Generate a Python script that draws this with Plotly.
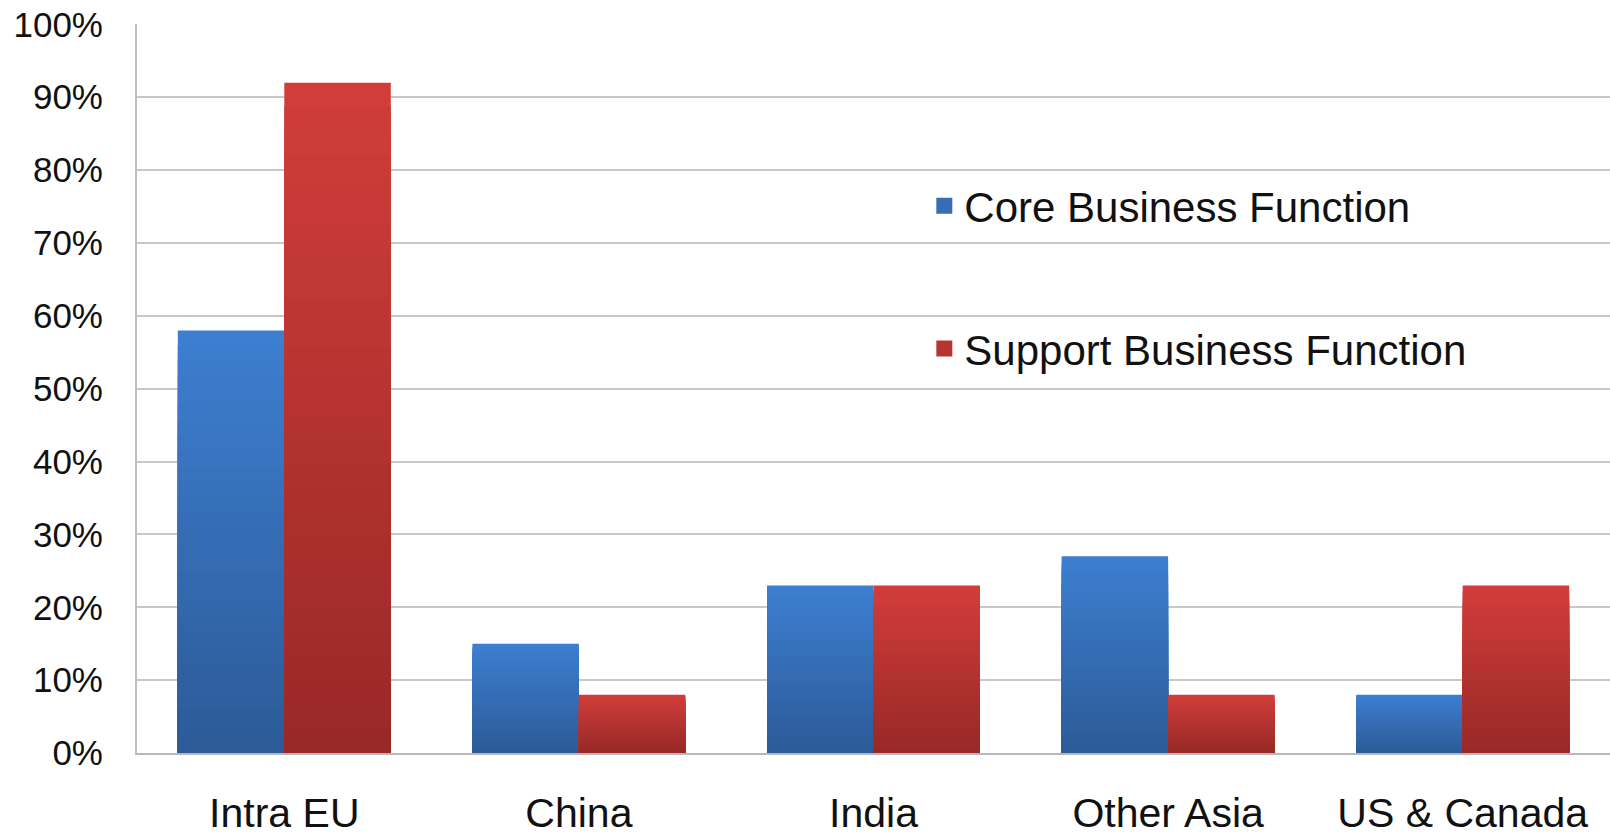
import plotly.graph_objects as go

# Share of relocations by destination and business function
regions = ["Intra EU", "China", "India", "Other Asia", "US & Canada"]
core_share = [0.58, 0.15, 0.23, 0.27, 0.08]
support_share = [0.92, 0.08, 0.23, 0.08, 0.23]

series = [
    ("Core Business Function", core_share, (61, 126, 208), (44, 91, 152), "core"),
    ("Support Business Function", support_share, (208, 61, 58), (153, 41, 39), "support"),
]

N_BANDS = 28  # vertical shading bands per bar (light at the top, dark at the base)


def blend(c1, c2, t):
    return "rgb({},{},{})".format(*[round(a + (b - a) * t) for a, b in zip(c1, c2)])


fig = go.Figure()
for name, values, top_col, base_col, group in series:
    for k in range(N_BANDS):
        frac = 1 - k / N_BANDS
        fig.add_trace(go.Bar(
            x=regions,
            y=[v * frac for v in values],
            name=name,
            offsetgroup=group,
            legendgroup=group,
            showlegend=False,
            marker=dict(color=blend(top_col, base_col, k / (N_BANDS - 1)), line=dict(width=0)),
            hoverinfo="skip" if k else "x+y+name",
        ))
    # legend key: a larger square swatch in the mid tone of the bar shading
    fig.add_trace(go.Scatter(
        x=[regions[0]],
        y=[None],
        mode="markers",
        name=name,
        legendgroup=group,
        showlegend=True,
        marker=dict(symbol="square", size=16, color=blend(top_col, base_col, 0.45),
                    line=dict(width=0)),
        hoverinfo="skip",
    ))

fig.update_layout(
    width=1610,
    height=835,
    margin=dict(l=137, r=0, t=24, b=82),
    paper_bgcolor="white",
    plot_bgcolor="white",
    barmode="group",
    bargap=0.277,
    bargroupgap=0,
    font=dict(family="Liberation Sans, Arial, sans-serif", color="#111111"),
    legend=dict(
        x=0.5345, y=0.797, xanchor="left", yanchor="top",
        font=dict(size=42, color="#111111"),
        bgcolor="rgba(0,0,0,0)",
        traceorder="grouped",
        tracegroupgap=85,
        itemsizing="trace",
        itemclick=False,
    ),
)

fig.update_yaxes(
    range=[0, 1.0005],
    dtick=0.1,
    tick0=0,
    tickformat=".0%",
    tickfont=dict(size=35),
    showgrid=True,
    gridcolor="#C8C8C8",
    gridwidth=2,
    showline=True,
    linecolor="#C0C0C0",
    linewidth=2,
    zeroline=False,
    ticks="",
    ticklabelstandoff=25,
    automargin=False,
)
fig.update_xaxes(
    tickfont=dict(size=41),
    showline=True,
    linecolor="#B8B8B8",
    linewidth=2,
    showgrid=False,
    ticks="",
    ticklabelstandoff=23,
    automargin=False,
)

fig.write_html("out.html")
